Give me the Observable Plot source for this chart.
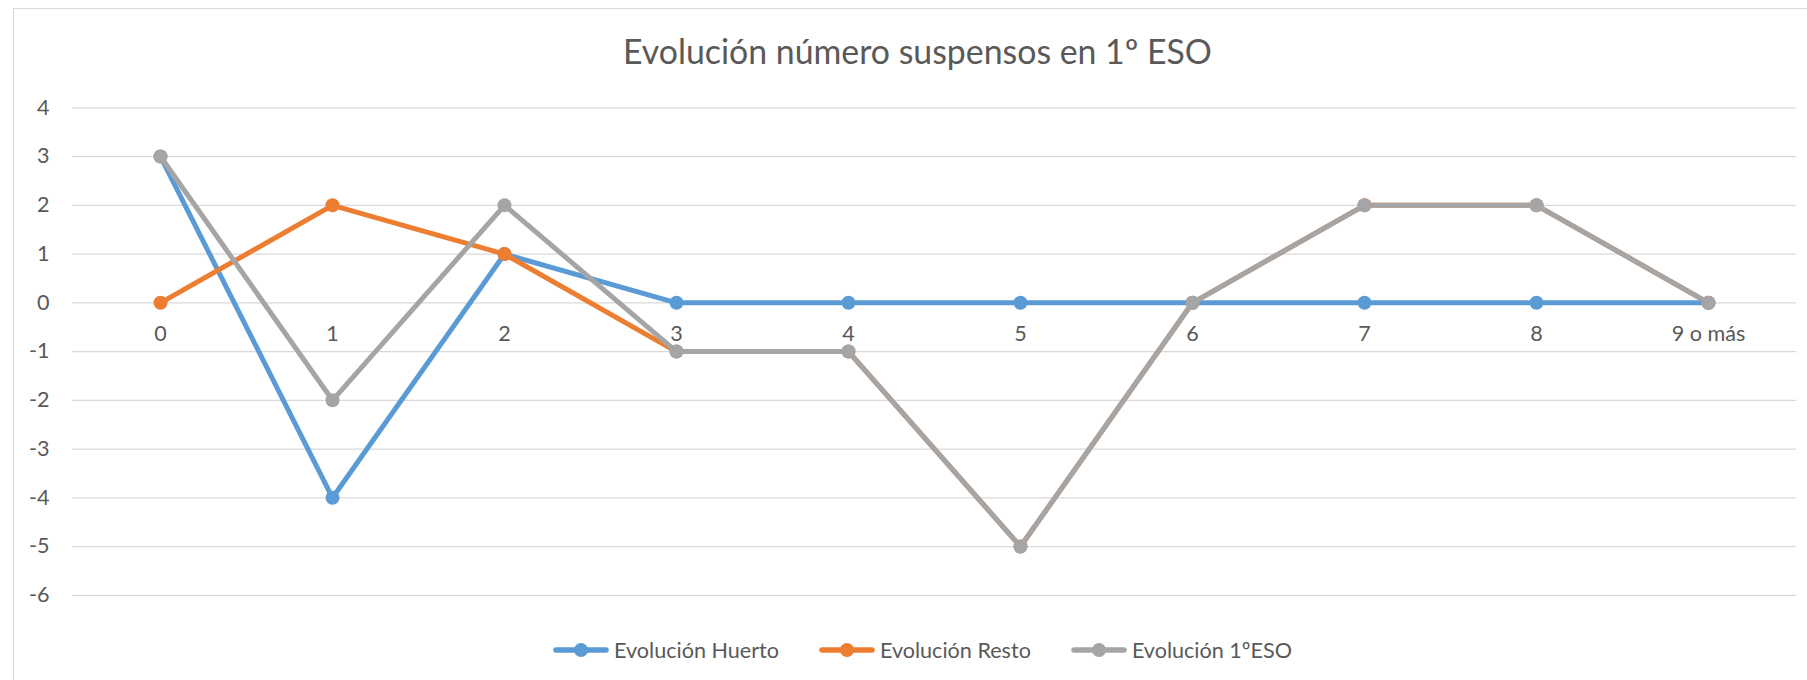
<!DOCTYPE html>
<html>
<head>
<meta charset="utf-8">
<script src="https://cdn.jsdelivr.net/npm/d3@7"></script>
<script src="https://cdn.jsdelivr.net/npm/@observablehq/plot@0.6"></script>
<style>
  html, body { margin: 0; padding: 0; background: #fff; }
  #wrap { position: relative; width: 1807px; height: 680px; overflow: hidden; font-family: Lato, "Open Sans", sans-serif; color: #595959; }
  #frame { position: absolute; left: 13px; top: 8px; width: 1900px; height: 800px; border-left: 1px solid #d9d9d9; border-top: 1px solid #d9d9d9; box-sizing: border-box; }
  #title { position: absolute; left: 0; width: 1835px; height: 80px; top: 0; text-align: center; white-space: nowrap; font-weight: 400; }
  #chart { position: absolute; left: 0; top: 80px; }
  #legend { position: absolute; left: 0; top: 620px; width: 1845px; height: 60px; display: flex; justify-content: center; align-items: center; }
  #legend .item { display: flex; align-items: center; margin: 0 20px; }
  #legend svg { display: block; margin-right: 5px; }
  #legend span { white-space: nowrap; }
</style>
</head>
<body>
<div id="wrap">
  <div id="frame"></div>
  <div id="title"></div>
  <div id="chart"></div>
  <div id="legend"></div>
</div>
<script>
// ---- data ----
const titleText = "Evolución número suspensos en 1º ESO";
const categories = ["0", "1", "2", "3", "4", "5", "6", "7", "8", "9 o más"];
const seriesNames = ["Evolución Huerto", "Evolución Resto", "Evolución 1ºESO"];
const seriesColors = ["#5b9bd5", "#ed7d31", "#a5a5a5"];
const huerto = [3, -4, 1, 0, 0, 0, 0, 0, 0, 0];
const resto = [0, 2, 1, -1, -1, -5, 0, 2, 2, 0];
const eso1 = [3, -2, 2, -1, -1, -5, 0, 2, 2, 0];
const yTicks = [4, 3, 2, 1, 0, -1, -2, -3, -4, -5, -6];

const seriesValues = [huerto, resto, eso1];
const rows = seriesNames.flatMap((s, i) =>
  categories.map((c, j) => ({series: s, cat: c, value: seriesValues[i][j]})));

// ---- font sizing (match reference text widths) ----
const FAMILY = 'Lato, "Open Sans", sans-serif';
const ctx = document.createElement("canvas").getContext("2d");
function fit(text, target) {
  ctx.font = `100px ${FAMILY}`;
  return 100 * target / ctx.measureText(text).width;
}
const titleSize = fit(titleText, 589);
const labelSize = fit("Evolución Huerto", 165);

// title: baseline at y = 65
const title = document.getElementById("title");
title.textContent = titleText;
title.style.fontSize = titleSize + "px";
title.style.lineHeight = "1";
title.style.paddingTop = (65 - 0.887 * titleSize) + "px";
title.style.boxSizing = "border-box";

// ---- chart ----
const seriesMarks = seriesNames.flatMap((s) => {
  const d = rows.filter(r => r.series === s);
  return [
    Plot.line(d, {x: "cat", y: "value", stroke: "series", strokeWidth: 5, strokeLinecap: "round", strokeLinejoin: "round"}),
    Plot.dot(d, {x: "cat", y: "value", fill: "series", r: 7, stroke: "none"})
  ];
});

const chart = Plot.plot({
  width: 1807,
  height: 540,
  marginTop: 27.3,
  marginBottom: 25.2,
  marginLeft: 72,
  marginRight: 11,
  style: {fontFamily: FAMILY, fontSize: labelSize + "px", color: "#595959", background: "transparent"},
  x: {type: "point", domain: categories, padding: 0.5, axis: null},
  y: {domain: [-6, 4], axis: null},
  color: {domain: seriesNames, range: seriesColors},
  marks: [
    Plot.ruleY(yTicks, {stroke: "#d9d9d9", strokeWidth: 1.3}),
    Plot.axisY({ticks: yTicks, tickSize: 0, tickPadding: 23, tickFormat: d => String(d), label: null, fill: "#595959", fontSize: labelSize}),
    Plot.text(categories, {x: d => d, y: () => 0, text: d => d, dy: 31, fill: "#595959", fontSize: labelSize, textAnchor: "middle"}),
    ...seriesMarks
  ]
});
document.getElementById("chart").appendChild(chart);

// ---- legend ----
const legend = document.getElementById("legend");
seriesNames.forEach((s, i) => {
  const item = document.createElement("div");
  item.className = "item";
  const ns = "http://www.w3.org/2000/svg";
  const sw = document.createElementNS(ns, "svg");
  sw.setAttribute("width", 56);
  sw.setAttribute("height", 16);
  const ln = document.createElementNS(ns, "line");
  ln.setAttribute("x1", 3); ln.setAttribute("x2", 53);
  ln.setAttribute("y1", 8); ln.setAttribute("y2", 8);
  ln.setAttribute("stroke", seriesColors[i]);
  ln.setAttribute("stroke-width", 5.5);
  ln.setAttribute("stroke-linecap", "round");
  const c = document.createElementNS(ns, "circle");
  c.setAttribute("cx", 28); c.setAttribute("cy", 8); c.setAttribute("r", 7);
  c.setAttribute("fill", seriesColors[i]);
  sw.appendChild(ln); sw.appendChild(c);
  const t = document.createElement("span");
  t.textContent = s;
  t.style.fontSize = labelSize + "px";
  item.appendChild(sw); item.appendChild(t);
  legend.appendChild(item);
});
</script>
</body>
</html>
